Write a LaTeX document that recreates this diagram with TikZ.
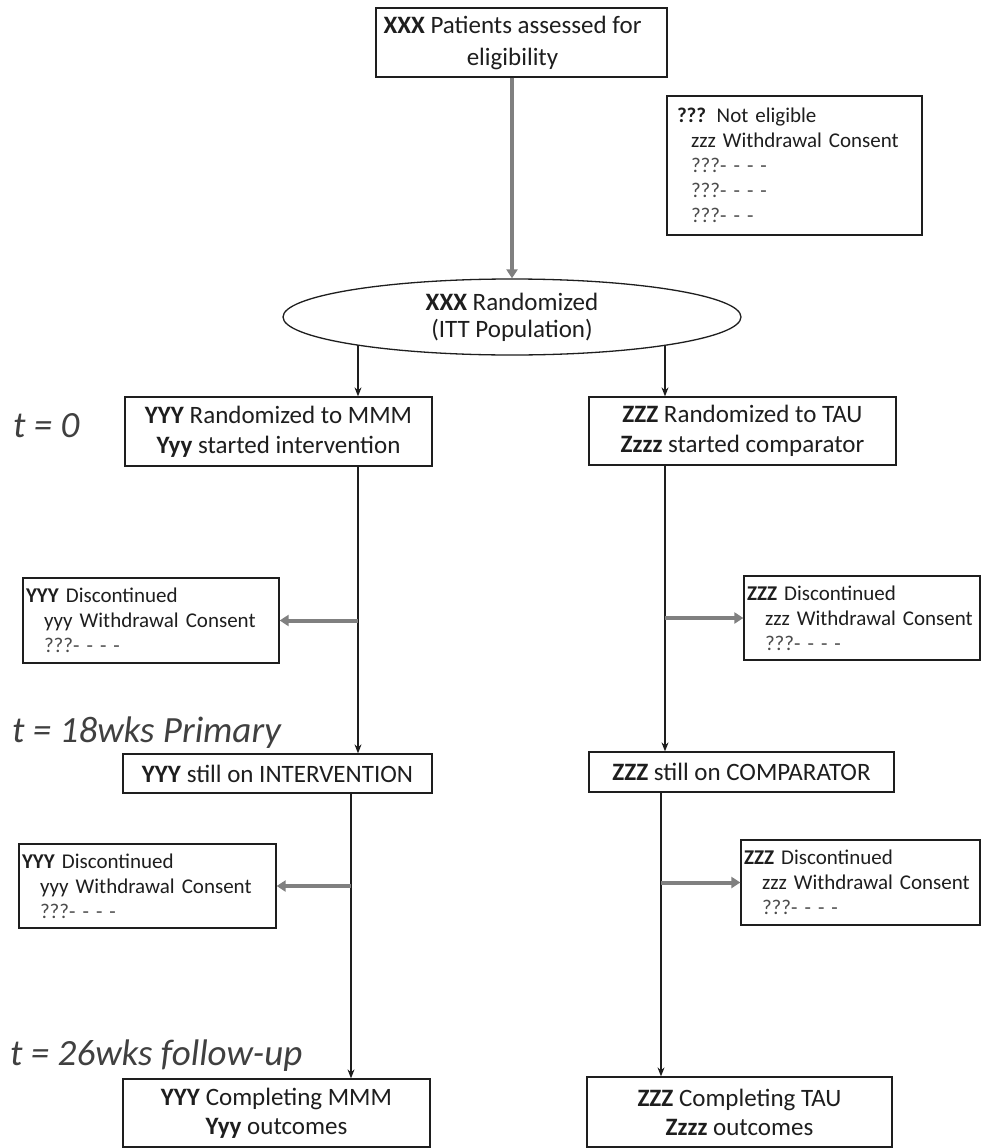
\documentclass[tikz,border=0pt]{standalone}
\usepackage{fontspec}
\setmainfont{Carlito}
\usetikzlibrary{shapes.geometric,arrows.meta}
\definecolor{arrowgray}{HTML}{808080}
\definecolor{inkc}{HTML}{1E1E1E}
\definecolor{labelc}{HTML}{404040}
\begin{document}
\begin{tikzpicture}[x=1pt,y=-1pt,
  box/.style={draw=inkc, line width=1.3pt, inner sep=0pt, align=center, text=inkc,
    font=\fontsize{25}{30}\selectfont},
  sbox/.style={draw=inkc, line width=1.3pt, inner ysep=0pt, inner xsep=3pt, align=left, text=inkc,
    font=\fontsize{21}{25}\selectfont},
  bigarrow/.style={draw=arrowgray, line width=4pt,
    -{Triangle[length=9pt,width=11pt,fill=arrowgray]}},
  thinarrow/.style={draw=inkc, line width=1.2pt, -{Stealth[length=9pt,width=7pt]}},
  tlabel/.style={font=\fontsize{37}{40}\selectfont\itshape, text=labelc, anchor=base west, inner sep=0pt}]
\fill[white] (0,0) rectangle (987,1148);
\useasboundingbox (0,0) rectangle (987,1148);

% top
\node[box, minimum width=291pt, minimum height=69pt, font=\fontsize{25}{32}\selectfont] (top) at (521.5,42.5)
  {\textbf{XXX} Patients assessed for\hspace*{18pt}\\eligibility\hspace*{18pt}};
\node[sbox, text width=235pt, inner xsep=10pt, minimum height=139pt] (ne) at (794.5,165.5)
  {\textbf{???} Not eligible\\
   \hspace*{14pt}zzz Withdrawal Consent\\
   \hspace*{14pt}{\color{black!70}???- - - -}\\
   \hspace*{14pt}{\color{black!70}???- - - -}\\
   \hspace*{14pt}{\color{black!70}???- - -}};

\node[ellipse, draw=inkc, line width=1.3pt, inner sep=0pt, minimum width=458pt, minimum height=76pt,
  align=center, text=inkc, font=\fontsize{25}{27}\selectfont] (ell) at (512,317)
  {\textbf{XXX} Randomized\\(ITT Population)};

\draw[bigarrow] ([xshift=-9.5pt]top.south) -- (ell.north);

% t = 0
\node[tlabel] (lab0) at (13,437) {t = 0};
\node[box, minimum width=307pt, minimum height=69pt] (t0L) at (278.5,431.5)
  {\textbf{YYY} Randomized to MMM\\\textbf{Yyy} started intervention};
\node[box, minimum width=307pt, minimum height=68pt] (t0R) at (742.5,431)
  {\textbf{ZZZ} Randomized to TAU\\\textbf{Zzzz} started comparator};

\coordinate (eL) at (358,345);
\coordinate (eR) at (665,345.4);
\coordinate (lL) at (351,0);
\coordinate (lR) at (661,0);

\draw[thinarrow] (eL) -- (eL |- t0L.north);
\draw[thinarrow] (eR) -- (eR |- t0R.north);

% discontinued 1
\node[sbox, text width=250pt, minimum height=85pt] (dL1) at (151,620.5)
  {\textbf{YYY} Discontinued\\
   \hspace*{18pt}yyy Withdrawal Consent\\
   \hspace*{18pt}{\color{black!70}???- - - -}};
\node[sbox, text width=230pt, minimum height=84pt] (dR1) at (862,618)
  {\textbf{ZZZ} Discontinued\\
   \hspace*{18pt}zzz Withdrawal Consent\\
   \hspace*{18pt}{\color{black!70}???- - - -}};

% t = 18wks
\node[tlabel] (lab18) at (12,742) {t = 18wks Primary};
\node[box, minimum width=309pt, minimum height=39pt] (stL) at (277.5,773.5)
  {\textbf{YYY} still on INTERVENTION};
\node[box, minimum width=305pt, minimum height=40pt] (stR) at (741.5,772)
  {\textbf{ZZZ} still on COMPARATOR};

\draw[thinarrow] (t0L.south -| eL) -- (stL.north -| eL);
\draw[thinarrow] (t0R.south -| eR) -- (stR.north -| eR);
\draw[bigarrow] (dL1.east -| eL) -- (dL1.east);
\draw[bigarrow] (dR1.west -| eR) -- (dR1.west);

% discontinued 2
\node[sbox, text width=251pt, minimum height=84pt] (dL2) at (147.5,886)
  {\textbf{YYY} Discontinued\\
   \hspace*{18pt}yyy Withdrawal Consent\\
   \hspace*{18pt}{\color{black!70}???- - - -}};
\node[sbox, text width=233pt, minimum height=85pt] (dR2) at (860.5,882.5)
  {\textbf{ZZZ} Discontinued\\
   \hspace*{18pt}zzz Withdrawal Consent\\
   \hspace*{18pt}{\color{black!70}???- - - -}};

% t = 26wks
\node[tlabel] (lab26) at (10,1065) {t = 26wks follow-up};
\node[box, minimum width=307pt, minimum height=68pt, font=\fontsize{25}{29}\selectfont] (cpL) at (276.5,1113)
  {\textbf{YYY} Completing MMM\\\textbf{Yyy} outcomes};
\node[box, minimum width=305pt, minimum height=70pt, font=\fontsize{25}{29}\selectfont] (cpR) at (739.5,1112)
  {\textbf{ZZZ} Completing TAU\\\textbf{Zzzz} outcomes};

\draw[thinarrow] (stL.south -| lL) -- (cpL.north -| lL);
\draw[thinarrow] (stR.south -| lR) -- (cpR.north -| lR);
\draw[bigarrow] (dL2.east -| lL) -- (dL2.east);
\draw[bigarrow] (dR2.west -| lR) -- (dR2.west);
\end{tikzpicture}
\end{document}
